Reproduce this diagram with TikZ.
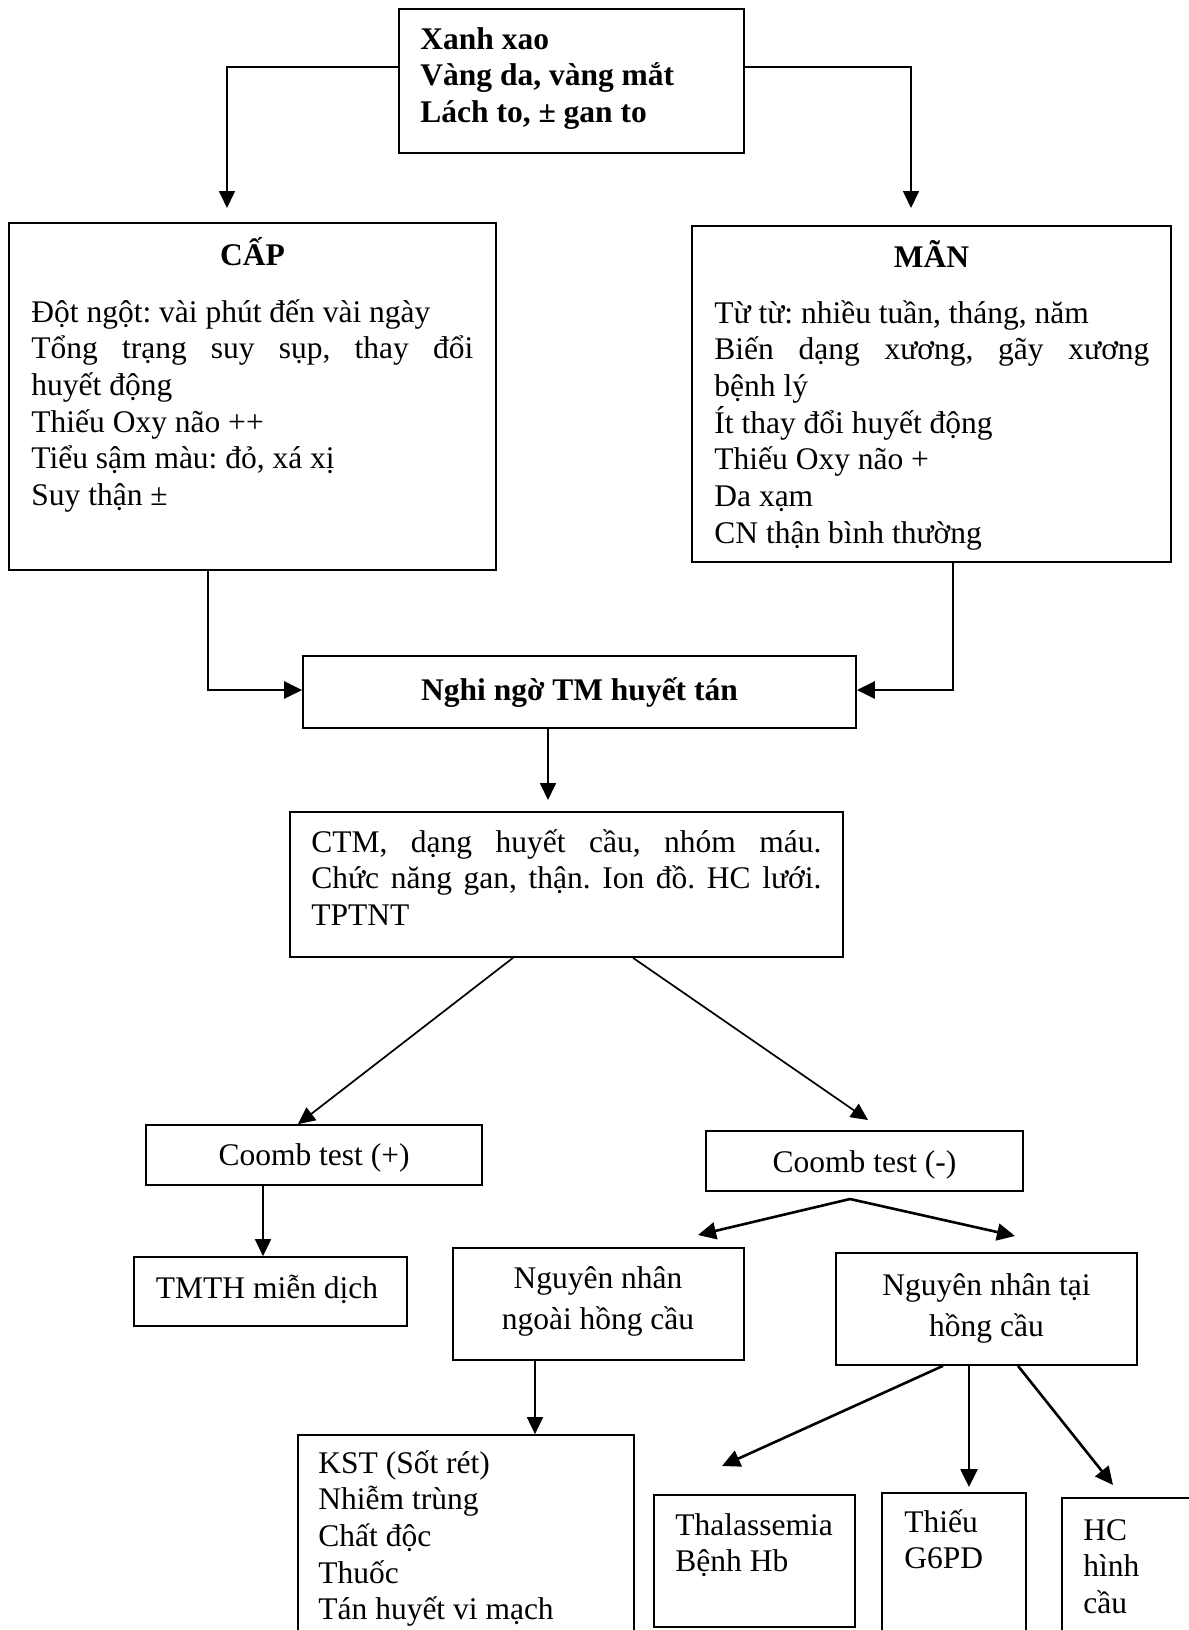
\documentclass[tikz,border=0pt]{standalone}
\usepackage{fontspec}
\setmainfont{Liberation Serif}
\usetikzlibrary{arrows.meta}
\newcommand\myfs{\fontsize{15.75pt}{18.35pt}\selectfont}
\newcommand\mywide{\fontsize{15.75pt}{20.5pt}\selectfont}
\frenchspacing
\begin{document}
\frenchspacing
\begin{tikzpicture}[x=0.5pt,y=-0.5pt,
  bx/.style={draw, line width=0.85pt, inner sep=0pt, rectangle},
  sz/.style 2 args={minimum width=#1*0.5pt, minimum height=#2*0.5pt},
  txt/.style={inner sep=0pt, font=\myfs},
  arr/.style={line width=0.85pt, -{Triangle[length=8.5pt,width=8pt]}},
  arrb/.style={line width=1.3pt, -{Triangle[length=9pt,width=8.5pt]}},
]
\useasboundingbox (0,0) rectangle (1189,1630);
\fill[white] (0,0) rectangle (1189,1630);

% boxes
\node[bx, sz={345}{144}] (top) at (571.5,81) {};
\node[bx, sz={487}{347}] (cap) at (252.5,396.5) {};
\node[bx, sz={479}{336}] (man) at (931.5,394) {};
\node[bx, sz={553}{72}] (nghi) at (579.5,692) {};
\node[bx, sz={553}{145}] (ctm) at (566.5,884.5) {};
\node[bx, sz={336}{60}] (cplus) at (314,1155) {};
\node[bx, sz={317}{60}] (cminus) at (864.5,1161) {};
\node[bx, sz={273}{69}] (tmth) at (270.5,1291.5) {};
\node[bx, sz={291}{112}] (ngoai) at (598.5,1304) {};
\node[bx, sz={301}{112}] (tai) at (986.5,1309) {};
\node[bx, sz={336}{225}] (kst) at (466,1547.5) {};
\node[bx, sz={201}{132}] (thal) at (754.5,1561) {};
\node[bx, sz={144}{167}] (thieu) at (954,1576.5) {};
\node[bx, sz={138}{162}] (hc) at (1131,1579) {};

% texts
\node[txt, anchor=base west] (toptxt) at (420,49) {\parbox[t]{170pt}{\bfseries Xanh xao\\Vàng da, vàng mắt\\Lách to, ± gan to}};
\node[txt, anchor=base] (captitle) at (252.5,265) {\bfseries CẤP};
\node[txt, anchor=base west] (captxt) at (31,322) {\parbox[t]{221pt}{Đột ngột: vài phút đến vài ngày\\\makebox[221pt][s]{Tổng trạng suy sụp, thay đổi}\\huyết động\\Thiếu Oxy não ++\\Tiểu sậm màu: đỏ, xá xị\\Suy thận ±}};
\node[txt, anchor=base] (mantitle) at (931.5,267) {\bfseries MÃN};
\node[txt, anchor=base west] (mantxt) at (714,323) {\parbox[t]{217.5pt}{Từ từ: nhiều tuần, tháng, năm\\\makebox[217.5pt][s]{Biến dạng xương, gãy xương}\\bệnh lý\\Ít thay đổi huyết động\\Thiếu Oxy não +\\Da xạm\\CN thận bình thường}};
\node[txt, anchor=base] (nghitxt) at (579.5,700) {\bfseries Nghi ngờ TM huyết tán};
\node[txt, anchor=base west] (ctmtxt) at (311,852) {\parbox[t]{255pt}{\makebox[255pt][s]{CTM, dạng huyết cầu, nhóm máu.}\\\makebox[255pt][s]{Chức năng gan, thận. Ion đồ. HC lưới.}\\TPTNT}};
\node[txt, anchor=base] (cplustxt) at (314,1165) {Coomb test (+)};
\node[txt, anchor=base] (cminustxt) at (864.5,1172) {Coomb test (-)};
\node[txt, anchor=base] (tmthtxt) at (267,1298) {TMTH miễn dịch};
\node[txt, anchor=base] (ngoaitxt) at (598,1288) {\parbox[t]{140pt}{\centering\mywide Nguyên nhân\\ngoài hồng cầu\par}};
\node[txt, anchor=base] (taitxt) at (986.5,1295) {\parbox[t]{140pt}{\centering\mywide Nguyên nhân tại\\hồng cầu\par}};
\node[txt, anchor=base west] (ksttxt) at (318,1473) {\parbox[t]{160pt}{KST (Sốt rét)\\Nhiễm trùng\\Chất độc\\Thuốc\\Tán huyết vi mạch}};
\node[txt, anchor=base west] (thaltxt) at (675,1535) {\parbox[t]{90pt}{Thalassemia\\Bệnh Hb}};
\node[txt, anchor=base west] (thieutxt) at (904,1532) {\parbox[t]{60pt}{Thiếu\\G6PD}};
\node[txt, anchor=base west] (hctxt) at (1083,1540) {\parbox[t]{60pt}{HC\\hình\\cầu}};

% connector ends
\coordinate (capin) at (227,208);
\coordinate (manin) at (911,208);
\coordinate (ctmin) at (548,800);
\coordinate (cminin) at (868,1120);
\coordinate (split) at (850,1199);
\coordinate (ngoaiin) at (698,1235);
\coordinate (taiin) at (1015,1236);
\coordinate (thalin) at (722,1466);
\coordinate (thieuin) at (969,1487);
\coordinate (hcin) at (1113,1485);

% connectors
\draw[arr] (top.west |- 0,67) -| (capin);
\draw[arr] (top.east |- 0,67) -| (manin);
\draw[arrb] (cap.south -| 208,0) |- (nghi.west |- 0,690);
\draw[arrb] (man.south -| 953,0) |- (nghi.east |- 0,690);
\draw[arr] (nghi.south -| 548,0) -- (ctmin);
\draw[arr] (ctm.south -| 513,0) -- (cplus.north -| 298,0);
\draw[arr] (ctm.south -| 633,0) -- (cminin);
\draw[arr] (cplus.south -| 263,0) -- (tmth.north -| 263,0);
\draw[arrb] (split) -- (ngoaiin);
\draw[arrb] (split) -- (taiin);
\draw[arr] (ngoai.south -| 535,0) -- (kst.north -| 535,0);
\draw[arrb] (tai.south -| 943,0) -- (thalin);
\draw[arrb] (tai.south -| 969,0) -- (thieuin);
\draw[arrb] (tai.south -| 1018,0) -- (hcin);
\end{tikzpicture}
\end{document}
